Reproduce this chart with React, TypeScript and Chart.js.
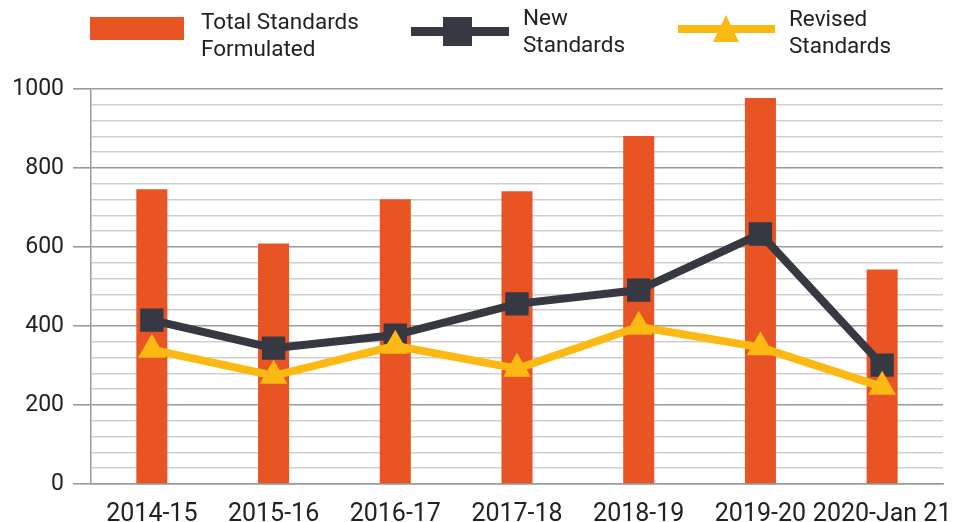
import React, { useEffect, useRef } from "react";
import { Chart, registerables } from "chart.js";

Chart.register(...registerables);

const categories = ["2014-15", "2015-16", "2016-17", "2017-18", "2018-19", "2019-20", "2020-Jan 21"];
const totalStandards = [746, 609, 721, 741, 881, 977, 543];
const newStandards = [415, 344, 377, 456, 491, 633, 301];
const revisedStandards = [340, 274, 350, 292, 398, 346, 246];
const yTickLabels = [0, 200, 400, 600, 800, 1000];

const ORANGE = "#E85424";
const DARK = "#363842";
const YELLOW = "#FDB913";
const FONT = "Roboto, 'Liberation Sans', sans-serif";

export default function App() {
  const canvasRef = useRef<HTMLCanvasElement | null>(null);

  useEffect(() => {
    const canvas = canvasRef.current;
    if (!canvas) return;
    const chart = new Chart(canvas, {
      type: "bar",
      data: {
        labels: categories,
        datasets: [
          {
            type: "line",
            label: "Revised Standards",
            data: revisedStandards,
            borderColor: YELLOW,
            backgroundColor: YELLOW,
            borderWidth: 8,
            pointStyle: "triangle",
            pointRadius: 16,
            pointBorderWidth: 0,
            order: 0,
          },
          {
            type: "line",
            label: "New Standards",
            data: newStandards,
            borderColor: DARK,
            backgroundColor: DARK,
            borderWidth: 8,
            pointStyle: "rect",
            pointRadius: 16.5,
            pointBorderWidth: 0,
            order: 1,
          },
          {
            type: "bar",
            label: "Total Standards Formulated",
            data: totalStandards,
            backgroundColor: ORANGE,
            borderWidth: 0,
            barPercentage: 0.255,
            categoryPercentage: 1,
            order: 2,
          },
        ],
      },
      options: {
        animation: false,
        responsive: false,
        maintainAspectRatio: false,
        layout: { padding: { top: 89, left: 0, right: 27, bottom: 0 } },
        plugins: {
          legend: { display: false },
          tooltip: { enabled: false },
        },
        scales: {
          x: {
            grid: { display: false },
            border: { display: true, color: "#999999", width: 1.5 },
            ticks: {
              color: "#222222",
              font: { family: FONT, size: 25 },
              padding: 8,
              maxRotation: 0,
              autoSkip: false,
            },
            afterFit: (scale: any) => {
              scale.height = 38;
            },
          },
          y: {
            min: 0,
            max: 1000,
            ticks: {
              stepSize: 40,
              autoSkip: false,
              color: "#222222",
              font: { family: FONT, size: 23 },
              padding: 9,
              callback: (v: any) => (yTickLabels.includes(Number(v)) ? String(v) : ""),
            },
            grid: {
              color: (ctx: any) =>
                ctx.tick && ctx.tick.value % 200 === 0 ? "#9a9a9a" : "#cfcfcf",
              lineWidth: 1.6,
              tickColor: (ctx: any) =>
                ctx.tick && ctx.tick.value % 200 === 0 ? "#9a9a9a" : "rgba(0,0,0,0)",
              tickLength: 18,
            },
            border: { display: true, color: "#999999", width: 1.5 },
            afterFit: (scale: any) => {
              scale.width = 91;
            },
          },
        },
      },
    });
    return () => chart.destroy();
  }, []);

  const textStyle: React.CSSProperties = {
    position: "absolute",
    fontFamily: FONT,
    fontSize: 22.5,
    lineHeight: "27px",
    color: "#222222",
    whiteSpace: "nowrap",
  };

  return (
    <div style={{ position: "fixed", left: 0, top: 0, width: 970, height: 522, background: "#ffffff" }}>
      <canvas ref={canvasRef} width={970} height={522} style={{ position: "absolute", left: 0, top: 0 }} />
      {/* Legend */}
      <div style={{ position: "absolute", left: 90, top: 17, width: 94, height: 23, background: ORANGE }} />
      <div style={{ ...textStyle, left: 201, top: 8 }}>
        Total Standards
        <br />
        Formulated
      </div>

      <div style={{ position: "absolute", left: 411, top: 27, width: 98, height: 9, background: DARK }} />
      <div style={{ position: "absolute", left: 443, top: 17, width: 29, height: 29, background: DARK }} />
      <div style={{ ...textStyle, left: 523, top: 4 }}>
        New
        <br />
        Standards
      </div>

      <div style={{ position: "absolute", left: 678, top: 25, width: 97, height: 8, background: YELLOW }} />
      <div
        style={{
          position: "absolute",
          left: 713,
          top: 15,
          width: 0,
          height: 0,
          borderLeft: "13px solid transparent",
          borderRight: "13px solid transparent",
          borderBottom: `27px solid ${YELLOW}`,
        }}
      />
      <div style={{ ...textStyle, left: 789, top: 5 }}>
        Revised
        <br />
        Standards
      </div>
    </div>
  );
}
